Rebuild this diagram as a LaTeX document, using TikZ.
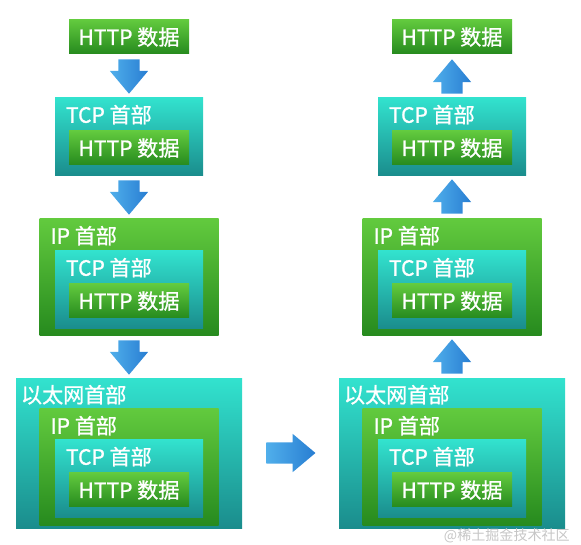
\documentclass[tikz,border=0pt]{standalone}
\usepackage{fontspec}
\setmainfont{Noto Sans CJK SC}
\newfontfamily\pktfont{Noto Sans CJK SC}[FakeBold=1]
\usetikzlibrary{calc,positioning,shapes.arrows}
\definecolor{boxgreentop}{RGB}{98,202,62}
\definecolor{boxgreenbot}{RGB}{38,138,30}
\definecolor{boxtealtop}{RGB}{50,226,206}
\definecolor{boxtealbot}{RGB}{26,140,140}
\definecolor{arrowblueA}{RGB}{80,175,235}
\definecolor{arrowblueB}{RGB}{40,125,210}
\newdimen\pxu \pxu=0.03cm

\begin{document}
\begin{tikzpicture}[x=0.03cm, y=-0.03cm,
    pkt/.style={rectangle, inner sep=0pt, draw=none, text=white, font=\pktfont\fontsize{18}{21}\selectfont},
    httpbox/.style={pkt, top color=boxgreentop, bottom color=boxgreenbot, minimum width=120\pxu, minimum height=34\pxu},
    tcpbox/.style={pkt, top color=boxtealtop, bottom color=boxtealbot, minimum width=148\pxu, minimum height=78\pxu},
    ipbox/.style={pkt, top color=boxgreentop, bottom color=boxgreenbot, minimum width=179\pxu, minimum height=117\pxu},
    ethbox/.style={pkt, top color=boxtealtop, bottom color=boxtealbot, minimum width=226\pxu, minimum height=150\pxu},
    hdr/.style={anchor=base west, inner sep=0pt, text=white, font=\pktfont\fontsize{18}{21}\selectfont},
    flow/.style={single arrow, single arrow head extend=8.5\pxu, single arrow tip angle=80, inner sep=10.5\pxu,
        minimum width=38\pxu, minimum height=34\pxu, anchor=tail, left color=arrowblueA, right color=arrowblueB}]
        \useasboundingbox (0,0) rectangle (581,545);

        % Sender side (left column)
        \node[httpbox] (lhttp0) at (129,37) {HTTP 数据};

        \node[tcpbox] (ltcp1) at (129,137) {};
        \node[hdr] (ltcp1lbl) at ($(ltcp1.north west)+(11,25)$) {TCP 首部};
        \node[httpbox, below=33\pxu of ltcp1.north, anchor=north] (lhttp1) {HTTP 数据};

        \node[ipbox] (lip2) at (129,277.5) {};
        \node[hdr] (lip2lbl) at ($(lip2.north west)+(11,25)$) {IP 首部};
        \node[tcpbox, below=32\pxu of lip2.north, anchor=north] (ltcp2) {};
        \node[hdr] (ltcp2lbl) at ($(ltcp2.north west)+(11,25)$) {TCP 首部};
        \node[httpbox, below=33\pxu of ltcp2.north, anchor=north] (lhttp2) {HTTP 数据};

        \node[ethbox] (leth3) at (129,454) {};
        \node[hdr] (leth3lbl) at ($(leth3.north west)+(5,24)$) {以太网首部};
        \node[ipbox, below=30\pxu of leth3.north, anchor=north] (lip3) {};
        \node[hdr] (lip3lbl) at ($(lip3.north west)+(11,25)$) {IP 首部};
        \node[tcpbox, below=31\pxu of lip3.north, anchor=north] (ltcp3) {};
        \node[hdr] (ltcp3lbl) at ($(ltcp3.north west)+(11,25)$) {TCP 首部};
        \node[httpbox, below=33\pxu of ltcp3.north, anchor=north] (lhttp3) {HTTP 数据};

        % Receiver side (right column)
        \node[httpbox] (rhttp0) at (452,37) {HTTP 数据};

        \node[tcpbox] (rtcp1) at (452,137) {};
        \node[hdr] (rtcp1lbl) at ($(rtcp1.north west)+(11,25)$) {TCP 首部};
        \node[httpbox, below=33\pxu of rtcp1.north, anchor=north] (rhttp1) {HTTP 数据};

        \node[ipbox] (rip2) at (452,277.5) {};
        \node[hdr] (rip2lbl) at ($(rip2.north west)+(11,25)$) {IP 首部};
        \node[tcpbox, below=32\pxu of rip2.north, anchor=north] (rtcp2) {};
        \node[hdr] (rtcp2lbl) at ($(rtcp2.north west)+(11,25)$) {TCP 首部};
        \node[httpbox, below=33\pxu of rtcp2.north, anchor=north] (rhttp2) {HTTP 数据};

        \node[ethbox] (reth3) at (452,454) {};
        \node[hdr] (reth3lbl) at ($(reth3.north west)+(5,24)$) {以太网首部};
        \node[ipbox, below=30\pxu of reth3.north, anchor=north] (rip3) {};
        \node[hdr] (rip3lbl) at ($(rip3.north west)+(11,25)$) {IP 首部};
        \node[tcpbox, below=31\pxu of rip3.north, anchor=north] (rtcp3) {};
        \node[hdr] (rtcp3lbl) at ($(rtcp3.north west)+(11,25)$) {TCP 首部};
        \node[httpbox, below=33\pxu of rtcp3.north, anchor=north] (rhttp3) {HTTP 数据};

        % Block arrows (down on the left, up on the right)
        \node[flow, rotate=-90] (ldown1) at ($(lhttp0.south)+(0,5)$) {};
        \node[flow, rotate=-90] (ldown2) at ($(ltcp1.south)+(0,4)$) {};
        \node[flow, rotate=-90] (ldown3) at ($(lip2.south)+(0,4)$) {};
        \node[flow, minimum height=49\pxu] (across) at ($(leth3.east)+(24,-1)$) {};
        \node[flow, rotate=90] (rup3) at ($(reth3.north)+(0,-5)$) {};
        \node[flow, rotate=90] (rup2) at ($(rip2.north)+(0,-5)$) {};
        \node[flow, rotate=90] (rup1) at ($(rtcp1.north)+(0,-4)$) {};

        % Watermark
        \node[anchor=base east, inner sep=0pt, text=gray!45, font=\fontsize{12}{14}\selectfont] (mark) at (570,541) {@稀土掘金技术社区};
    \end{tikzpicture}
\end{document}
